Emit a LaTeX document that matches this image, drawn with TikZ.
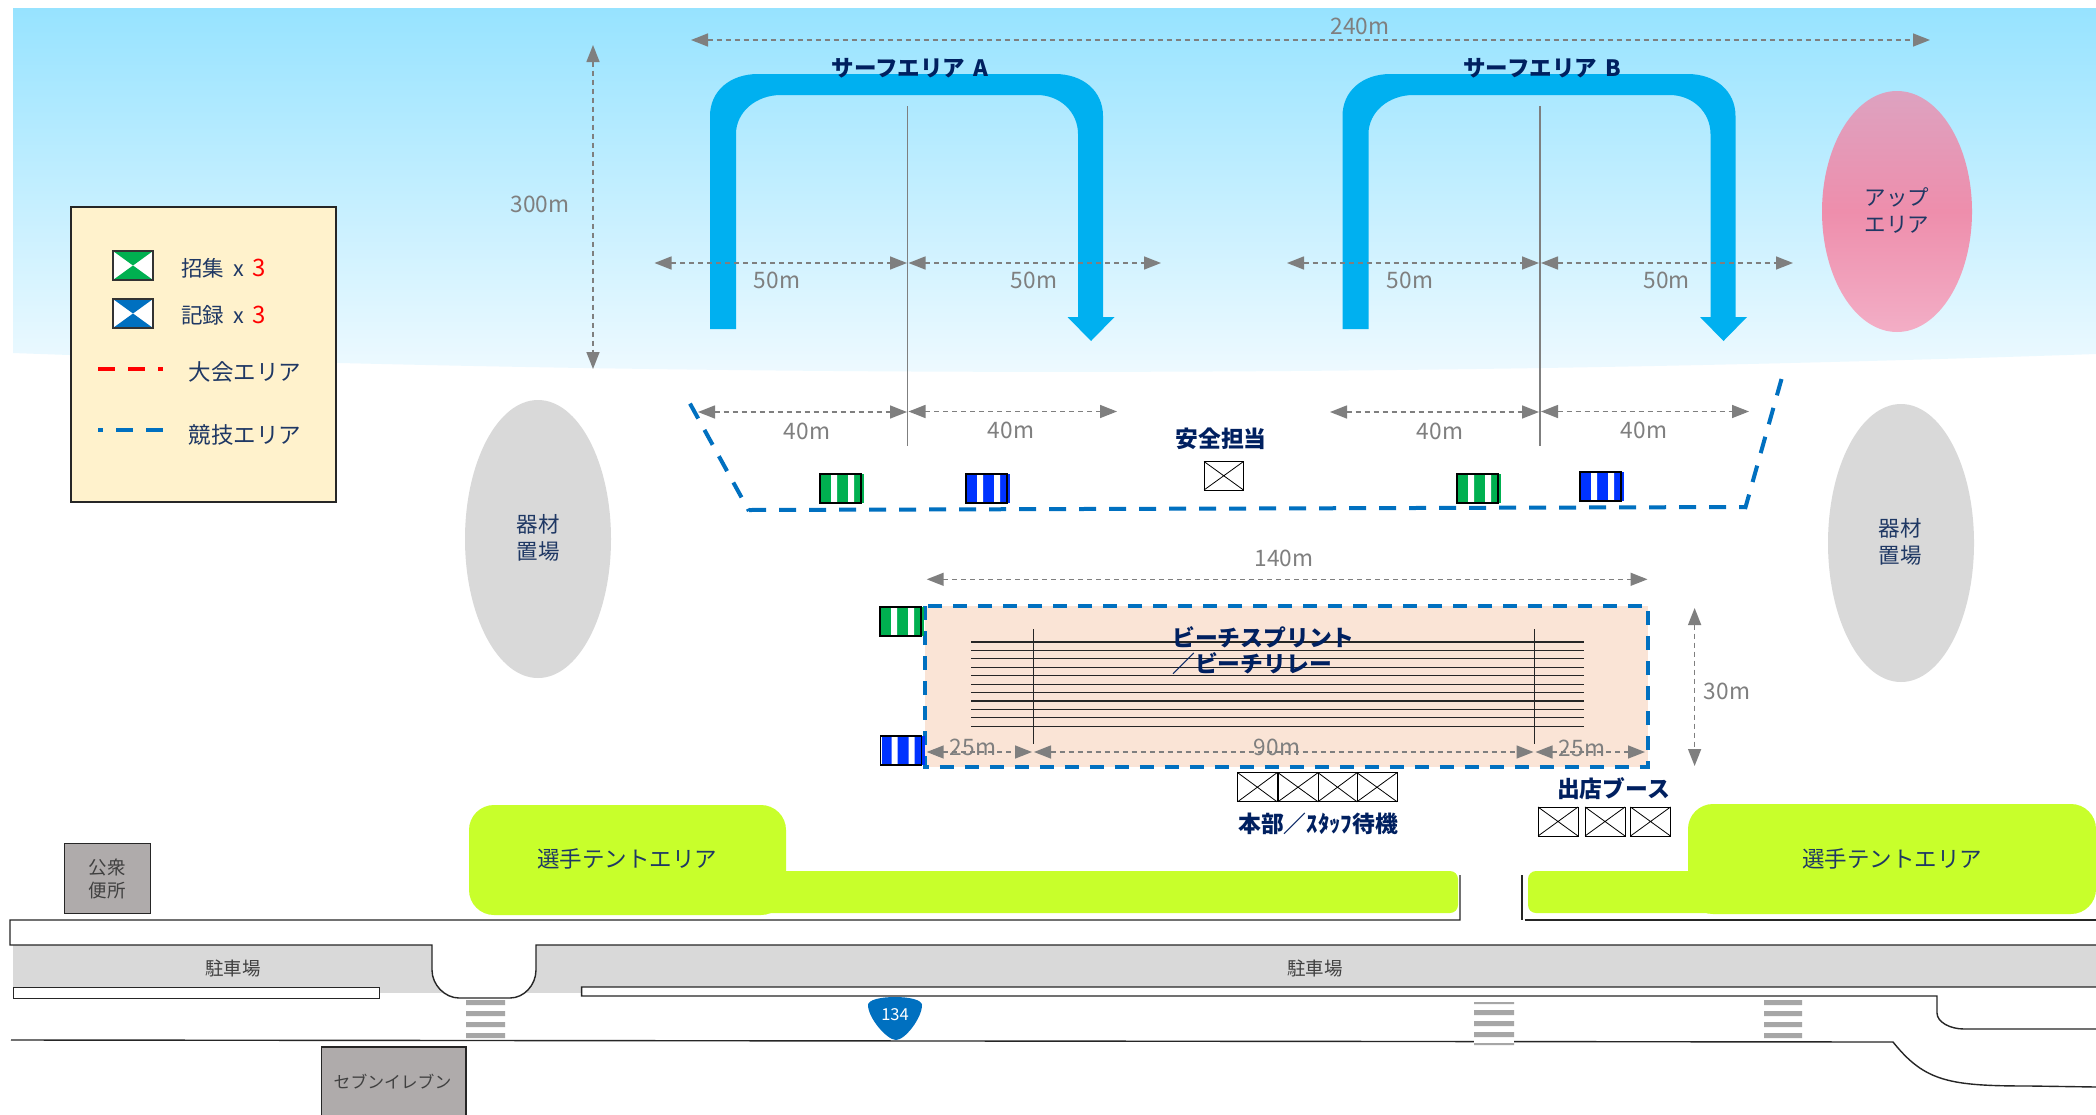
\documentclass[tikz,border=0pt]{standalone}
\usepackage{fontspec}
\setmainfont{Noto Sans CJK JP}
\usetikzlibrary{arrows.meta}
\definecolor{skytop}{HTML}{97E3FF}
\definecolor{skybot}{HTML}{EFFAFF}
\definecolor{surf}{HTML}{00B0F0}
\definecolor{navy}{HTML}{1F3864}
\definecolor{navyb}{HTML}{002060}
\definecolor{dimgray}{HTML}{7F7F7F}
\definecolor{zone}{HTML}{0070C0}
\definecolor{lime}{HTML}{C8FF2B}
\definecolor{parkgray}{HTML}{D9D9D9}
\definecolor{bldg}{HTML}{AFABAB}
\definecolor{sand}{HTML}{FAE4D6}
\definecolor{legendbg}{HTML}{FFF2CC}
\definecolor{callgreen}{HTML}{00B050}
\definecolor{recblue}{HTML}{0033FF}
\definecolor{crossgray}{HTML}{A6A6A6}
\definecolor{pinktop}{HTML}{DDA2C0}
\definecolor{pinkmid}{HTML}{EE8EAC}
\definecolor{pinkbot}{HTML}{F3AEC6}
\tikzset{
  dim/.style={draw=dimgray,line width=1.5pt,dash pattern=on 5pt off 4pt,
    {Triangle[length=17pt,width=13pt,fill=dimgray]}-{Triangle[length=17pt,width=13pt,fill=dimgray]}},
  dimlabel/.style={text=dimgray,font=\fontsize{22.7}{26}\selectfont,inner sep=0pt},
  bigl/.style={text=navyb,font=\fontsize{22.8}{27}\bfseries\selectfont,inner sep=0pt,align=center},
  regl/.style={text=navy,font=\fontsize{21.5}{27}\selectfont,inner sep=0pt,align=center},
  wide/.style={text=navy,font=\fontsize{22.5}{27}\selectfont,inner sep=0pt,align=center},
  bldgl/.style={text=black!75,inner sep=0pt,align=center},
  zoneline/.style={draw=zone,line width=4pt},
  road/.style={draw=black!85,line width=1.4pt},
  bar/.style={fill=crossgray,draw=none},
  boxx/.style={draw=black,line width=1pt,fill=white}
}
\newcommand{\boothbox}[4]{%
  \draw[boxx] (#1,#2) rectangle (#3,#4);
  \draw[line width=0.8pt] (#1,#2) -- (#3,#4) (#1,#4) -- (#3,#2);}
\newcommand{\stripebox}[3]{%
  \begin{scope}[shift={(#1,#2)}]
    \fill[#3] (1,0) rectangle (44,29);
    \fill[white] (11,0.5) rectangle (17,28.5) (28,0.5) rectangle (34,28.5);
    \draw[black,line width=1.4pt] (0,0) rectangle (41,29);
  \end{scope}}
\newcommand{\hourglass}[3]{%
  \begin{scope}[shift={(#1,#2)}]
    \fill[white] (0,0) rectangle (40,29);
    \fill[#3] (0,0) -- (40,0) -- (20,14.5) -- cycle;
    \fill[#3] (0,29) -- (40,29) -- (20,14.5) -- cycle;
    \draw[black!80,line width=1.4pt] (0,0) rectangle (40,29);
  \end{scope}}
\newcommand{\crossbars}[2]{%
  \fill[bar] (#1,1000) rectangle (#2,1005) (#1,1011) rectangle (#2,1016)
             (#1,1022) rectangle (#2,1027) (#1,1033) rectangle (#2,1038);}
\begin{document}
\begin{tikzpicture}[x=1pt,y=-1pt]
\path[use as bounding box,fill=white] (0,0) rectangle (2096,1114);
% sea
\shade[top color=skytop,bottom color=skybot]
  (13,8) -- (2096,8) -- (2096,354) .. controls (1400,378) and (700,378) .. (13,353) -- cycle;
% up area
\shade[top color=pinktop,bottom color=pinkbot,middle color=pinkmid]
  (1897,211.5) ellipse [x radius=75,y radius=120.5];
% surf courses
\foreach \s in {0,632.5}{
\fill[surf,shift={(\s,0)}] (710,329) -- (710,116) .. controls (710,91) and (730,74) .. (758,74)
  -- (1055,74) .. controls (1083,74) and (1103,91) .. (1103,116) -- (1103,317)
  -- (1114.5,317) -- (1091,341) -- (1067.5,317) -- (1078,317) -- (1078,134)
  .. controls (1078,112) and (1060,95) .. (1037,95) -- (781,95)
  .. controls (756,95) and (736,112) .. (736,134) -- (736,329) -- cycle;
}
% centre lines
\draw[dimgray,line width=1.3pt] (907.6,106) -- (907.6,446);
\draw[dimgray,line width=1.3pt] (1540,106) -- (1540,446);
% dimension arrows
\draw[dim] (593,45) -- (593,369);
\draw[dim] (691,40) -- (1930,40);
\draw[dim] (654.5,263) -- (907,263);
\draw[dim] (908.5,263) -- (1161,263);
\draw[dim] (1287,263) -- (1539,263);
\draw[dim] (1541,263) -- (1793,263);
\draw[dim] (698,412) -- (907,412);
\draw[dim] (908.5,411.5) -- (1117,411.5);
\draw[dim] (1330,412) -- (1539,412);
\draw[dim] (1541,411.5) -- (1749,411.5);
% competition zone
\draw[zoneline,dash pattern=on 17pt off 13pt] (690,403.6) -- (749,511);
\draw[zoneline,dash pattern=on 17pt off 13pt] (749,510) -- (1745,507);
\draw[zoneline,dash pattern=on 17pt off 13pt] (1781.5,379) -- (1745,509);
% gear ellipses
\fill[parkgray] (538,539) ellipse [x radius=73,y radius=139];
\fill[parkgray] (1901,543) ellipse [x radius=73,y radius=139];
% call / record tents
\stripebox{820}{474}{callgreen}
\stripebox{966}{474}{recblue}
\stripebox{1457}{474}{callgreen}
\stripebox{1580}{472}{recblue}
\boothbox{1204}{461.5}{1243.5}{490}
% beach field
\fill[sand] (925,606) rectangle (1648,766.5);
\foreach \i in {0,...,10}{
  \draw[black!85,line width=1.2pt] (971,642+8.43*\i) -- (1584,642+8.43*\i);
}
\draw[black!85,line width=1pt] (1033,629) -- (1033,744);
\draw[black!85,line width=1pt] (1534.5,629) -- (1534.5,744);
\draw[zoneline,dash pattern=on 14pt off 11pt] (925,606) rectangle (1648,766.5);
\stripebox{880}{607}{callgreen}
\stripebox{880.5}{736}{recblue}
\draw[dim] (926.7,579.3) -- (1647.5,579.3);
\draw[dim] (926.7,752) -- (1032,752);
\draw[dim] (1034,752) -- (1533.5,752);
\draw[dim] (1535.5,752) -- (1645,752);
\draw[dim] (1694.6,608) -- (1694.6,766);
% booths
\boothbox{1237.7}{772.7}{1277}{801.7}
\boothbox{1278}{772.7}{1318}{801.7}
\boothbox{1318}{772.7}{1357}{801.7}
\boothbox{1357}{772.7}{1397}{801.7}
\boothbox{1538}{807}{1578}{836}
\boothbox{1585}{807}{1625}{836}
\boothbox{1630.5}{807}{1670.5}{836}
% tent areas
\fill[lime,rounded corners=8pt] (700,871) rectangle (1458,913);
\fill[lime,rounded corners=8pt] (1528,871) rectangle (1800,913);
\fill[lime,rounded corners=25pt] (469,805) rectangle (786,915);
\fill[lime,rounded corners=25pt] (1688,804) rectangle (2096,914);
% parking and roads
\fill[parkgray] (13,945) rectangle (2096,993);
\fill[white] (432,945) -- (432,970) .. controls (432,985) and (445,998) .. (459,998)
  -- (510,998) .. controls (524,998) and (536,985) .. (536,970) -- (536,945) -- cycle;
\fill[white] (581.6,987) rectangle (2096,996);
\draw[road] (1460,875) -- (1460,920) -- (10,920) -- (10,945) -- (432,945) -- (432,970)
  .. controls (432,985) and (445,998) .. (459,998) -- (510,998)
  .. controls (524,998) and (536,985) .. (536,970) -- (536,945) -- (2096,945);
\draw[road] (1522,875) -- (1522,920);
\draw[road] (1524.5,920) -- (2096,920);
\draw[draw=black!85,line width=1pt,fill=white] (13.5,987.5) rectangle (379.5,998);
\draw[road] (2096,987) -- (581.6,987) -- (581.6,996) -- (1937,996) -- (1937,1013)
  .. controls (1937,1022) and (1950,1029) .. (1964,1029) -- (2096,1029);
\draw[road] (11,1040) -- (1893,1042) .. controls (1925,1082) and (1950,1086) .. (2030,1086) -- (2096,1087);
% crossings
\crossbars{466}{505}
\fill[white] (1474,1001) rectangle (1514,1046);
\fill[bar] (1474,1002) rectangle (1514,1004) (1474,1010) rectangle (1514,1015)
  (1474,1021) rectangle (1514,1026) (1474,1032) rectangle (1514,1037) (1474,1043) rectangle (1514,1045);
\crossbars{1764}{1802}
% route shield
\fill[zone] (868,1005) .. controls (868,1000) and (880,997) .. (895,997)
  .. controls (910,997) and (922,1000) .. (922,1005)
  .. controls (922,1018) and (905,1040) .. (896,1040)
  .. controls (887,1040) and (868,1018) .. (868,1005) -- cycle;
\node[text=white,font=\fontsize{16.5}{20}\selectfont,inner sep=0pt] (route) at (895,1015) {134};
% buildings
\draw[fill=bldg,draw=black!85,line width=1.4pt] (64.4,843.3) rectangle (150.5,913.7);
\draw[fill=bldg,draw=black!85,line width=1.4pt] (321.4,1047) rectangle (466,1116);
\node[bldgl,font=\fontsize{18.5}{23}\selectfont] (toilet) at (107,878.5) {公衆\\便所};
\node[bldgl,font=\fontsize{16.8}{20}\selectfont] (seven) at (392.5,1082) {セブンイレブン};
\node[bldgl,font=\fontsize{18.5}{22}\selectfont] (parkL) at (233,968) {駐車場};
\node[bldgl,font=\fontsize{18.5}{22}\selectfont] (parkR) at (1315,968) {駐車場};
% dimension labels
\node[dimlabel] (d300) at (540,204.5) {300m};
\node[dimlabel] (d240) at (1360,26.5) {240m};
\node[dimlabel] (d50a) at (777,280.5) {50m};
\node[dimlabel] (d50b) at (1034,280.5) {50m};
\node[dimlabel] (d50c) at (1410,280.5) {50m};
\node[dimlabel] (d50d) at (1666.5,280.5) {50m};
\node[dimlabel] (d40a) at (807,431.5) {40m};
\node[dimlabel] (d40b) at (1011,430.5) {40m};
\node[dimlabel] (d40c) at (1440,431.5) {40m};
\node[dimlabel] (d40d) at (1644,430.5) {40m};
\node[dimlabel] (d140) at (1284,558.5) {140m};
\node[dimlabel] (d25a) at (973,747.5) {25m};
\node[dimlabel] (d90) at (1277,747.5) {90m};
\node[dimlabel] (d25b) at (1582,748.5) {25m};
\node[dimlabel] (d30) at (1727,691) {30m};
% area labels
\node[bigl,font=\fontsize{22.5}{27}\bfseries\selectfont] (surfA) at (910,68.5) {サーフエリア\hspace{8pt}A};
\node[bigl,font=\fontsize{22.5}{27}\bfseries\selectfont] (surfB) at (1542,68) {サーフエリア\hspace{8pt}B};
\node[bigl] (safety) at (1221,439) {安全担当};
\node[bigl,anchor=west] (beach1) at (1172,637) {ビーチスプリント};
\node[bigl,anchor=west] (beach2) at (1172,664) {／ビーチリレー};
\node[bigl] (hq) at (1318,824) {本部／ｽﾀｯﾌ待機};
\node[bigl] (shop) at (1613.5,789) {出店ブース};
\node[regl] (gearL) at (538,538) {器材\\置場};
\node[regl] (gearR) at (1900,542) {器材\\置場};
\node[regl] (up) at (1897,211) {アップ\\エリア};
\node[wide] (tentL) at (627,859) {選手テントエリア};
\node[wide] (tentR) at (1892,859) {選手テントエリア};
% legend
\draw[fill=legendbg,draw=black!85,line width=1.6pt] (71,207) rectangle (336,502);
\hourglass{113}{251}{callgreen}
\hourglass{113}{299}{zone}
\draw[draw=red,line width=4.5pt,dash pattern=on 17pt off 13pt] (98,369) -- (163,369);
\draw[zoneline,line width=4.5pt,dash pattern=on 17pt off 13pt,dash phase=12pt] (98,430) -- (163,430);
\node[regl,anchor=west] (lg1) at (181,268) {招集\hspace{9pt}x\hspace{9pt}\textcolor{red}{\fontsize{24}{27}\selectfont 3}};
\node[regl,anchor=west] (lg2) at (181,315) {記録\hspace{9pt}x\hspace{9pt}\textcolor{red}{\fontsize{24}{27}\selectfont 3}};
\node[wide,anchor=west] (lg3) at (188.5,372) {大会エリア};
\node[wide,anchor=west] (lg4) at (188.5,435) {競技エリア};
\end{tikzpicture}
\end{document}
